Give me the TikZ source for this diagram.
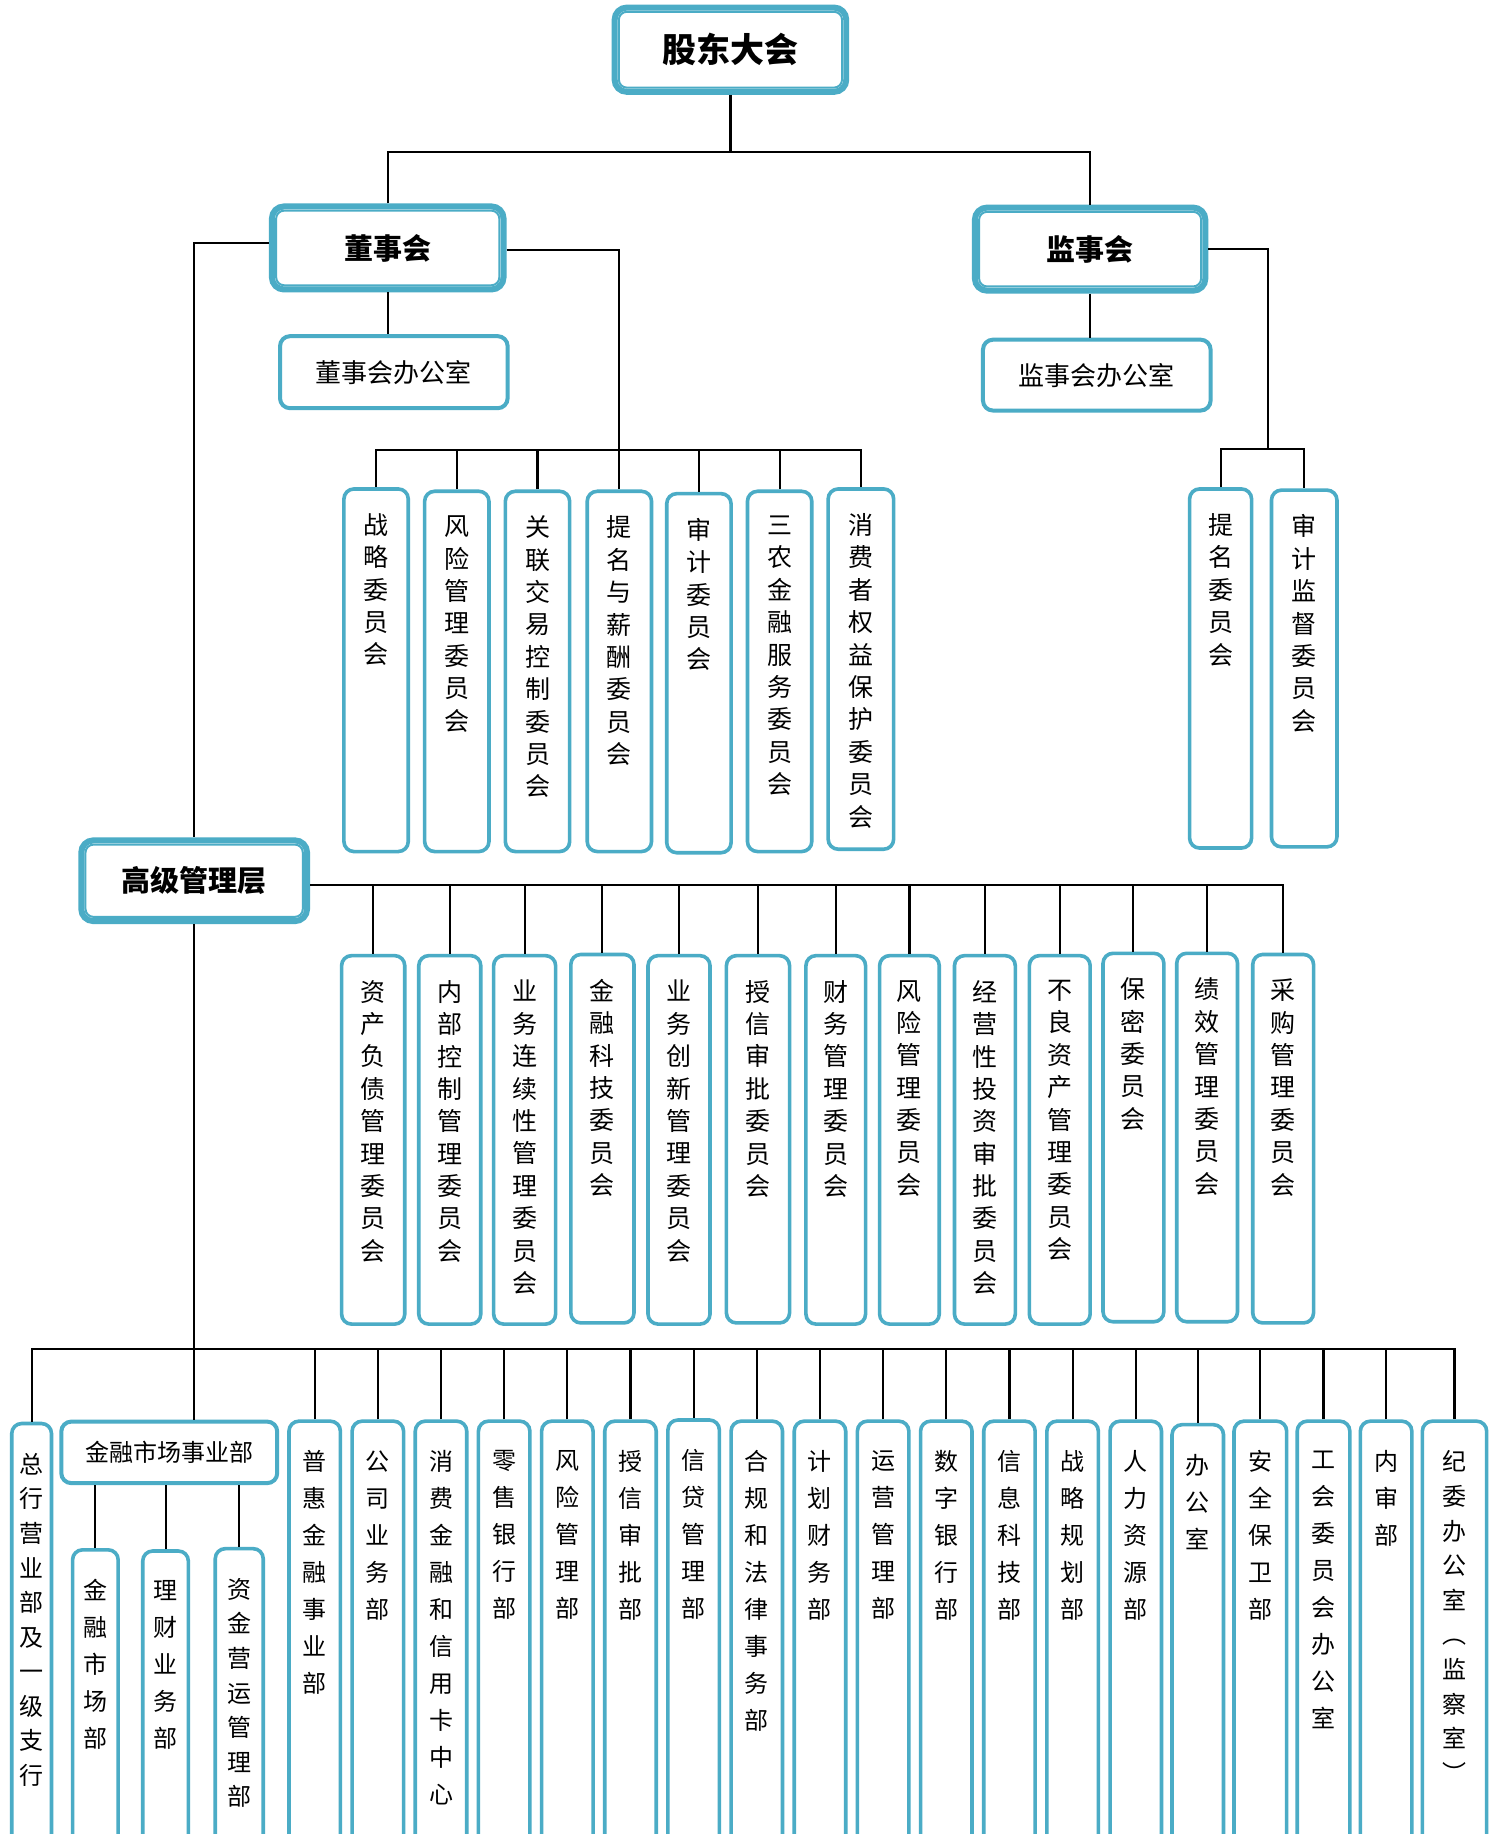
\documentclass[tikz,border=0pt]{standalone}
\usepackage{fontspec}
\newfontfamily\cjk{Noto Sans CJK SC}
\definecolor{tealc}{HTML}{4BACC6}
\newtoks\myvtk
\def\myvEnd{\relax}
\def\myvsplit#1{\myvB#1\myvEnd}
\def\myvB#1{\myvtk={#1}\myvA}
\def\myvA#1{\ifx#1\myvEnd\else\myvtk=\expandafter{\the\myvtk\\#1}\expandafter\myvA\fi}
\newcommand\myvt[1]{\myvsplit{#1}\the\myvtk}
\tikzset{
 conn/.style={draw=black, line width=1.05pt},
 cbox/.style={draw=tealc, line width=1.8pt, rounded corners=5pt, inner sep=0pt},
 vtxt/.style={anchor=north, inner sep=0pt, align=center, yshift=-13pt, font=\cjk\fontsize{12.5pt}{16.2pt}\selectfont},
 btxt/.style={yshift=-2.5pt, font=\cjk\fontsize{12pt}{18.5pt}\selectfont},
 btxtc/.style={yshift=-2.5pt, font=\cjk\fontsize{12pt}{17.3pt}\selectfont},
 hbox/.style={draw=tealc, line width=3pt, rounded corners=6pt, fill=white, inner sep=0pt, font=\cjk\bfseries\fontsize{14.5pt}{17pt}\selectfont},
 hinner/.style={draw=tealc, line width=1pt, rounded corners=4pt},
 obox/.style={draw=tealc, line width=2pt, rounded corners=5pt, inner sep=0pt, font=\cjk\fontsize{13pt}{15pt}\selectfont},
}
% heading box: style, name, xL, xR, yT, yB, text
\newcommand\hbx[7][]{%
 \node[hbox,#1, minimum width={(#4-#3-5)*0.585pt}, minimum height={(#6-#5-5)*0.585pt}] (#2) at ({(#3+#4)/2},{(#5+#6)/2}) {#7};
 \draw[hinner] ([shift={(3.6pt,-3.6pt)}]#2.north west) rectangle ([shift={(-3.6pt,3.6pt)}]#2.south east);
}
% office box
\newcommand\obx[7][]{%
 \node[obox,#1, anchor=north west, minimum width={(#4-#3-3.4)*0.585pt}, minimum height={(#6-#5-3.4)*0.585pt}] (#2) at ({#3+1.7},{#5+1.7}) {#7};
}
% vertical committee box
\newcommand\cbx[7][]{%
 \node[cbox, anchor=north west, minimum width={(#4-#3-3)*0.585pt}, minimum height={(#6-#5-3)*0.585pt}] (#2) at ({#3+1.5},{#5+1.5}) {};
 \node[vtxt,#1] at (#2.north) {\myvt{#7}};
}
\begin{document}
\begin{tikzpicture}[x=0.585pt,y=-0.585pt]
\useasboundingbox (0,0) rectangle (1277,1568);
\clip (0,0) rectangle (1277,1568);
\fill[white] (0,0) rectangle (1277,1568);

% headings
\hbx[font=\cjk\bfseries\fontsize{17pt}{20pt}\selectfont]{gd}{523}{726}{4}{81}{股东大会}
\hbx{dsh}{230}{433}{174}{250}{董事会}
\hbx{jsh}{831}{1033}{175}{251}{监事会}
\hbx{gj}{67}{265}{716}{790}{高级管理层}

% offices
\obx{dbgs}{236}{434}{284}{349}{董事会办公室}
\obx{jbgs}{837}{1035}{287}{351}{监事会办公室}

% board committees
\cbx{c1}{291}{349}{415}{728}{战略委员会}
\cbx{c2}{360}{418}{417}{728}{风险管理委员会}
\cbx{c3}{429}{487}{417}{728}{关联交易控制委员会}
\cbx{c4}{499}{557}{417}{728}{提名与薪酬委员会}
\cbx{c5}{567}{625}{419}{729}{审计委员会}
\cbx{c6}{636}{694}{417}{728}{三农金融服务委员会}
\cbx{c7}{705}{764}{415}{726}{消费者权益保护委员会}
\cbx{s1}{1014}{1070}{415}{725}{提名委员会}
\cbx{s2}{1084}{1143}{416}{724}{审计监督委员会}

% management committees
\cbx{m1}{289}{346}{814}{1132}{资产负债管理委员会}
\cbx{m2}{355}{411}{814}{1132}{内部控制管理委员会}
\cbx{m3}{419}{475}{814}{1132}{业务连续性管理委员会}
\cbx{m4}{485}{542}{813}{1131}{金融科技委员会}
\cbx{m5}{551}{607}{814}{1132}{业务创新管理委员会}
\cbx{m6}{618}{675}{814}{1131}{授信审批委员会}
\cbx{m7}{686}{740}{814}{1132}{财务管理委员会}
\cbx{m8}{749}{803}{814}{1132}{风险管理委员会}
\cbx{m9}{813}{868}{814}{1132}{经营性投资审批委员会}
\cbx{m10}{877}{932}{814}{1132}{不良资产管理委员会}
\cbx{m11}{940}{995}{812}{1130}{保密委员会}
\cbx{m12}{1003}{1058}{812}{1130}{绩效管理委员会}
\cbx{m13}{1068}{1123}{813}{1131}{采购管理委员会}

% departments
\cbx[btxtc]{b1}{7}{44}{1214}{1600}{总行营业部及一级支行}
\obx[font=\cjk\fontsize{12pt}{14pt}\selectfont]{jrsc}{49}{237}{1212}{1268}{金融市场事业部}
\cbx[btxt]{f1}{59}{101}{1322}{1600}{金融市场部}
\cbx[btxt]{f2}{119}{161}{1323}{1600}{理财业务部}
\cbx[btxtc]{f3}{181}{225}{1321}{1600}{资金营运管理部}
\cbx[btxt]{b3}{244}{291}{1212}{1600}{普惠金融事业部}
\cbx[btxt]{b4}{298}{345}{1212}{1600}{公司业务部}
\cbx[btxt]{b5}{352}{399}{1212}{1600}{消费金融和信用卡中心}
\cbx[btxt]{b6}{406}{453}{1212}{1600}{零售银行部}
\cbx[btxt]{b7}{460}{507}{1212}{1600}{风险管理部}
\cbx[btxt]{b8}{514}{561}{1212}{1600}{授信审批部}
\cbx[btxt]{b9}{568}{615}{1211}{1600}{信贷管理部}
\cbx[btxt]{b10}{622}{669}{1212}{1600}{合规和法律事务部}
\cbx[btxt]{b11}{676}{723}{1212}{1600}{计划财务部}
\cbx[btxt]{b12}{730}{777}{1212}{1600}{运营管理部}
\cbx[btxt]{b13}{784}{831}{1212}{1600}{数字银行部}
\cbx[btxt]{b14}{838}{885}{1212}{1600}{信息科技部}
\cbx[btxt]{b15}{892}{939}{1212}{1600}{战略规划部}
\cbx[btxt]{b16}{946}{993}{1212}{1600}{人力资源部}
\cbx[btxt]{b17}{999}{1046}{1215}{1600}{办公室}
\cbx[btxt]{b18}{1052}{1100}{1212}{1600}{安全保卫部}
\cbx[btxt]{b19}{1106}{1154}{1212}{1600}{工会委员会办公室}
\cbx[btxt]{b20}{1160}{1207}{1212}{1600}{内审部}
\cbx[btxtc]{b21}{1213}{1271}{1212}{1600}{纪委办公室︵监察室︶}

% connectors
\coordinate (gdbus) at (624.5,130);
\draw[conn] (gd.south) -- (gdbus);
\draw[conn] (dsh.north) |- (gdbus) -| (jsh.north);
\draw[conn] (dsh.south) -- (dsh.south |- dbgs.north);
\draw[conn] (jsh.south) -- (jsh.south |- jbgs.north);

\coordinate (dbus) at (528,385);
\draw[conn] ([yshift=-1pt]dsh.east) -| (c4.north);
\draw[conn] (c1.north) |- (dbus) -| (c7.north);
\foreach \n in {c2,c3,c5,c6} \draw[conn] (\n.north) -- (\n.north |- dbus);

\coordinate (jbus) at (1084,384);
\draw[conn] (jsh.east) -| (jbus);
\draw[conn] (s1.north) |- (jbus) -| (s2.north);

\draw[conn] ([yshift=2.5pt]dsh.west) -| (gj.north);
\coordinate (mbus) at ([yshift=-2.3pt]gj.east);
\draw[conn] (mbus) -| (m13.north);
\foreach \n in {m1,m2,m3,m4,m5,m6,m7,m8,m9,m10,m11,m12} \draw[conn] (\n.north) -- (\n.north |- mbus);

\coordinate (bbus) at (166,1153);
\draw[conn] (gj.south) -- (gj.south |- jrsc.north);
\draw[conn] (b1.north) |- (bbus) -| (b21.north);
\foreach \n in {b3,b4,b5,b6,b7,b8,b9,b10,b11,b12,b13,b14,b15,b16,b17,b18,b19,b20} \draw[conn] (\n.north) -- (\n.north |- bbus);
\foreach \n in {f1,f2,f3} \draw[conn] (\n.north) -- (\n.north |- jrsc.south);
\end{tikzpicture}
\end{document}
